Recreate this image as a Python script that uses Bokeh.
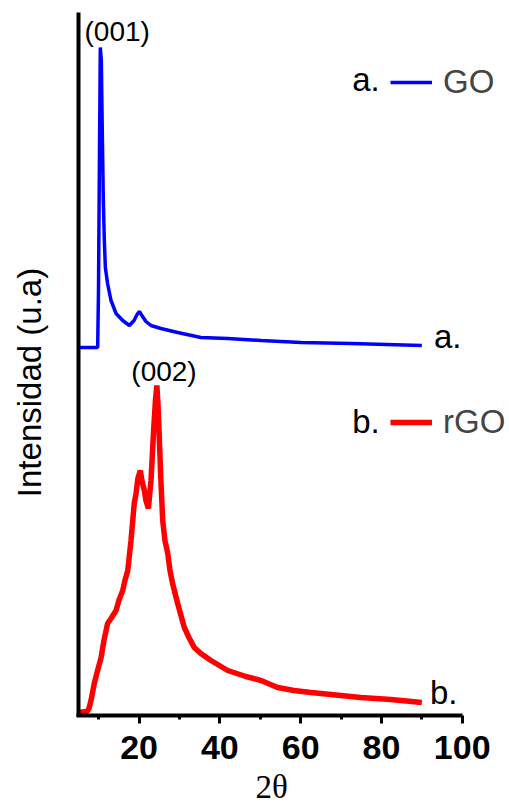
import math
from bokeh.plotting import figure
from bokeh.models import Range1d, FixedTicker, Label, Legend, LegendItem
from bokeh.embed import file_html
from bokeh.resources import INLINE

# ---- data (2theta in degrees, intensity in a.u.) ----
go_two_theta = [5.0, 9.75, 9.95, 10.2, 10.4, 10.65, 10.9, 11.15, 11.4, 11.65, 12.2, 13.05,
                14.3, 15.95, 17.6, 18.75, 19.5, 20.05, 20.7, 21.7, 22.95, 25.4, 29.55,
                35.3, 41.95, 50.2, 60.1, 72.5, 90.0]
go_intensity = [368, 368, 425, 565, 668, 655, 582, 515, 475, 448, 432, 415,
                402, 395, 390, 395, 401, 404, 400, 394, 390, 387, 383,
                378, 377, 375, 373, 372, 370]

rgo_two_theta = [5.0, 7.1, 7.6, 8.1, 8.9, 9.6, 10.6, 11.3, 12.2, 13.05, 14.3, 15.0, 15.95,
                 16.5, 17.2, 17.6, 18.0, 18.8, 19.25, 19.7, 20.3, 20.7, 21.3, 21.7, 22.3,
                 22.95, 23.6, 24.05, 24.4, 24.7, 25.0, 25.4, 25.85, 26.4, 27.1, 27.65, 28.3,
                 29.55, 31.2, 32.35, 33.65, 35.3, 37.8, 41.95, 46.45, 50.2, 54.3, 58.35,
                 62.55, 67.5, 74.9, 82.35, 90.0]
rgo_intensity = [3, 4, 7, 15, 32, 43, 58, 75, 92, 97, 105, 115, 125,
                 135, 145, 160, 175, 212, 222, 237, 245, 235, 225, 215, 207,
                 235, 285, 315, 330, 310, 278, 235, 195, 175, 162, 145, 132,
                 112, 88, 78, 68, 62, 55, 45, 39, 35, 28, 25,
                 23, 21, 18, 16, 13]

x_ticks = [20, 40, 60, 80, 100]
x_minor_ticks = [10, 30, 50, 70, 90]

FONT = "Liberation Sans"

# the frame fills the whole canvas; axes are drawn at fixed locations with bounds
p = figure(width=509, height=804, output_backend="svg", toolbar_location=None,
           x_range=Range1d(-14.31, 111.71), y_range=Range1d(-89, 715),
           min_border=0, min_border_left=0, min_border_right=0,
           min_border_top=0, min_border_bottom=0)
p.outline_line_color = None
p.xgrid.visible = False
p.ygrid.visible = False
p.background_fill_color = "white"
p.border_fill_color = "white"

# x axis
xa = p.xaxis[0]
xa.fixed_location = 0
xa.bounds = (4.5, 100)
xa.ticker = FixedTicker(ticks=x_ticks, minor_ticks=x_minor_ticks)
xa.axis_line_width = 4
xa.major_tick_in = 0
xa.major_tick_out = 8
xa.major_tick_line_width = 3
xa.minor_tick_in = 0
xa.minor_tick_out = 4
xa.minor_tick_line_width = 3
xa.major_label_text_font = FONT
xa.major_label_text_font_size = "34px"
xa.major_label_text_font_style = "bold"
xa.major_label_text_color = "black"
xa.major_label_standoff = 12

# y axis: line only
ya = p.yaxis[0]
ya.fixed_location = 4.9
ya.bounds = (-0.5, 703.5)
ya.ticker = FixedTicker(ticks=[])
ya.axis_line_width = 4
ya.major_tick_out = 0
ya.major_tick_in = 0
ya.minor_tick_out = 0
ya.minor_tick_in = 0
ya.major_label_standoff = 0

r_go = p.line(go_two_theta, go_intensity, line_color="#0000FF", line_width=3.5)
r_rgo = p.line(rgo_two_theta, rgo_intensity, line_color="#FF0000", line_width=5.5)

def make_legend(label, rend, loc):
    return Legend(items=[LegendItem(label=label, renderers=[rend])], location=loc,
                  padding=0, margin=0, spacing=0, glyph_width=42, glyph_height=20,
                  label_standoff=11, label_text_font=FONT, label_text_font_size="33px",
                  border_line_alpha=0, background_fill_alpha=0)

p.add_layout(make_legend("GO", r_go, (390, 703)), "center")
p.add_layout(make_legend("rGO", r_rgo, (390, 363)), "center")

def lab(x, y, text, size="33px", align="left", font=FONT, angle=0):
    p.add_layout(Label(x=x, y=y, text=text, text_font=font, text_font_size=size,
                       text_align=align, text_baseline="middle", text_color="black",
                       angle=angle))

# legend prefixes
lab(72.76, 636, "a.")
lab(72.76, 294.3, "b.")
# curve end labels
lab(93.0, 379.3, "a.")
lab(92.0, 23.3, "b.")
# peak labels
lab(14.58, 684, "(001)", size="28px", align="center")
lab(26.17, 344, "(002)", size="28px", align="center")
# axis titles
lab(52.8, -71, "2θ", size="33px", align="center", font="Liberation Serif")
lab(-7.13, 333, "Intensidad (u.a)", size="33px", align="center", angle=math.pi / 2)

open("out.html", "w").write(file_html(p, INLINE))
